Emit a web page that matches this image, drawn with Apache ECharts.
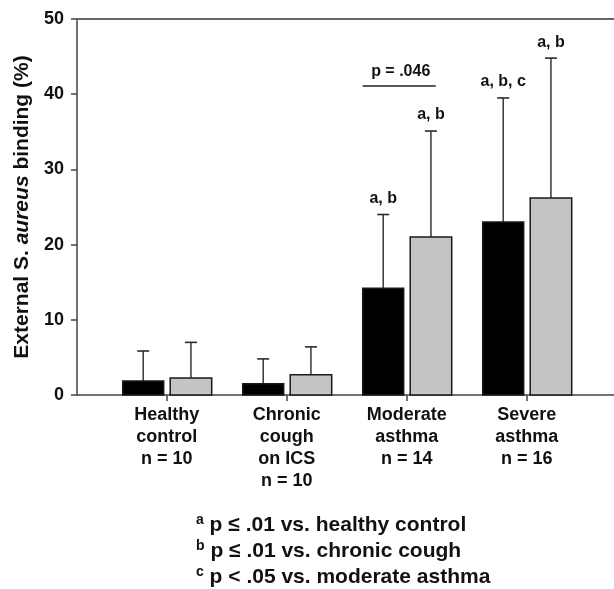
<!DOCTYPE html>
<html>
<head>
<meta charset="utf-8">
<script src="https://cdn.jsdelivr.net/npm/echarts@6/dist/echarts.min.js"></script>
<style>
html,body{margin:0;padding:0;background:#fff;}
#chart{width:614px;height:589px;}
</style>
</head>
<body>
<div id="chart"></div>
<script>
// ---- data ----
const categories = ['Healthy\ncontrol\nn = 10', 'Chronic\ncough\non ICS\nn = 10', 'Moderate\nasthma\nn = 14', 'Severe\nasthma\nn = 16'];
const blackValues = [1.85, 1.5, 14.2, 23.0];
const blackErrTop = [5.85, 4.8, 24.0, 39.5];
const grayValues = [2.25, 2.7, 21.0, 26.2];
const grayErrTop = [7.0, 6.4, 35.1, 44.8];
const blackNotes = ['', '', 'a, b', 'a, b, c'];
const grayNotes = ['', '', 'a, b', 'a, b'];
const comparisonGroups = [2];
const comparisonLevels = [41.1];
const comparisonTexts = ['p = .046'];
const yTicks = [0, 10, 20, 30, 40, 50];
const footnoteMarks = ['a', 'b', 'c'];
const footnoteTexts = ['p \u2264 .01 vs. healthy control', 'p \u2264 .01 vs. chronic cough', 'p < .05 vs. moderate asthma'];

const FONT = '"Liberation Sans", Arial, Helvetica, sans-serif';
const chart = echarts.init(document.getElementById('chart'));

function makeRender(offsetLeft, width, fill, notes) {
  return function (params, api) {
    const i = api.value(0), v = api.value(1), e = api.value(2);
    const base = api.coord([i, 0]);
    const top = api.coord([i, v]);
    const err = api.coord([i, e]);
    const x0 = base[0] + offsetLeft;
    const cx = x0 + width / 2;
    const children = [
      { type: 'line', shape: { x1: cx, y1: top[1], x2: cx, y2: err[1] }, style: { stroke: '#2a2a2a', lineWidth: 1.4 } },
      { type: 'line', shape: { x1: cx - 6, y1: err[1], x2: cx + 6, y2: err[1] }, style: { stroke: '#2a2a2a', lineWidth: 1.6 } },
      { type: 'rect', shape: { x: x0, y: top[1], width: width, height: base[1] - top[1] }, style: { fill: fill, stroke: '#1a1a1a', lineWidth: 1.5 } }
    ];
    const note = notes[params.dataIndex];
    if (note) {
      children.push({ type: 'text', style: { text: note, x: cx, y: err[1] - 16, align: 'center', verticalAlign: 'middle', fontSize: 16, fontWeight: 'bold', fontFamily: FONT, fill: '#111' } });
    }
    return { type: 'group', children: children };
  };
}

const blackData = blackValues.map((v, i) => [i, v, blackErrTop[i]]);
const grayData = grayValues.map((v, i) => [i, v, grayErrTop[i]]);
const compData = comparisonGroups.map((g, i) => [g, comparisonLevels[i]]);

const option = {
  animation: false,
  backgroundColor: '#fff',
  grid: { left: 77, right: 0, top: 19, bottom: 194, containLabel: false },
  xAxis: [
    {
      type: 'value', min: -0.7475, max: 3.7275,
      splitLine: { show: false },
      axisLine: { show: true, onZero: false, lineStyle: { color: '#444', width: 1.5 } },
      axisTick: { show: true, length: 6, customValues: [0, 1, 2, 3], lineStyle: { color: '#444', width: 1.5 } },
      axisLabel: {
        customValues: [0, 1, 2, 3],
        formatter: v => categories[Math.round(v)] || '',
        fontSize: 18, fontWeight: 'bold', fontFamily: FONT, color: '#111', lineHeight: 22, margin: 9, align: 'center'
      }
    },
    {
      type: 'value', position: 'top', min: -0.7475, max: 3.7275,
      splitLine: { show: false },
      axisLine: { show: true, onZero: false, lineStyle: { color: '#666', width: 2 } },
      axisTick: { show: false }, axisLabel: { show: false }
    }
  ],
  yAxis: {
    type: 'value', min: 0, max: 50, interval: 10,
    splitLine: { show: false },
    axisLine: { show: true, onZero: false, lineStyle: { color: '#444', width: 1.5 } },
    axisTick: { show: true, length: 6, lineStyle: { color: '#444', width: 1.5 } },
    axisLabel: { fontSize: 18, fontWeight: 'bold', fontFamily: FONT, color: '#111', margin: 13, formatter: v => yTicks.indexOf(v) >= 0 ? String(v) : '' },
    name: 'External S. {i|aureus} binding (%)',
    nameLocation: 'middle', nameGap: 37,
    nameTextStyle: { fontSize: 21, fontWeight: 'bold', fontFamily: FONT, color: '#111', rich: { i: { fontSize: 21, fontWeight: 'bold', fontStyle: 'italic', fontFamily: FONT, color: '#111' } } }
  },
  series: [
    { type: 'custom', clip: false, data: blackData, encode: { x: 0, y: 1 }, renderItem: makeRender(-44, 41, '#000', blackNotes) },
    { type: 'custom', clip: false, data: grayData, encode: { x: 0, y: 1 }, renderItem: makeRender(3.5, 41.5, '#c4c4c4', grayNotes) },
    {
      type: 'custom', clip: false, data: compData, encode: { x: 0, y: 1 },
      renderItem: function (params, api) {
        const p = api.coord([api.value(0), api.value(1)]);
        return { type: 'group', children: [
          { type: 'line', shape: { x1: p[0] - 44, y1: p[1], x2: p[0] + 29, y2: p[1] }, style: { stroke: '#222', lineWidth: 1.4 } },
          { type: 'text', style: { text: comparisonTexts[params.dataIndex], x: p[0] - 6, y: p[1] - 14, align: 'center', verticalAlign: 'middle', fontSize: 16, fontWeight: 'bold', fontFamily: FONT, fill: '#111' } }
        ] };
      }
    }
  ],
  graphic: footnoteTexts.map((t, i) => ({
    type: 'text', left: 196, top: 513 + i * 26,
    style: {
      text: '{s|' + footnoteMarks[i] + '} ' + t,
      fontSize: 21, fontWeight: 'bold', fontFamily: FONT, fill: '#111',
      rich: { s: { fontSize: 14, fontWeight: 'bold', fontFamily: FONT, fill: '#111', verticalAlign: 'top', padding: [0, 0, 10, 0] } }
    }
  }))
};
chart.setOption(option);
</script>
</body>
</html>
